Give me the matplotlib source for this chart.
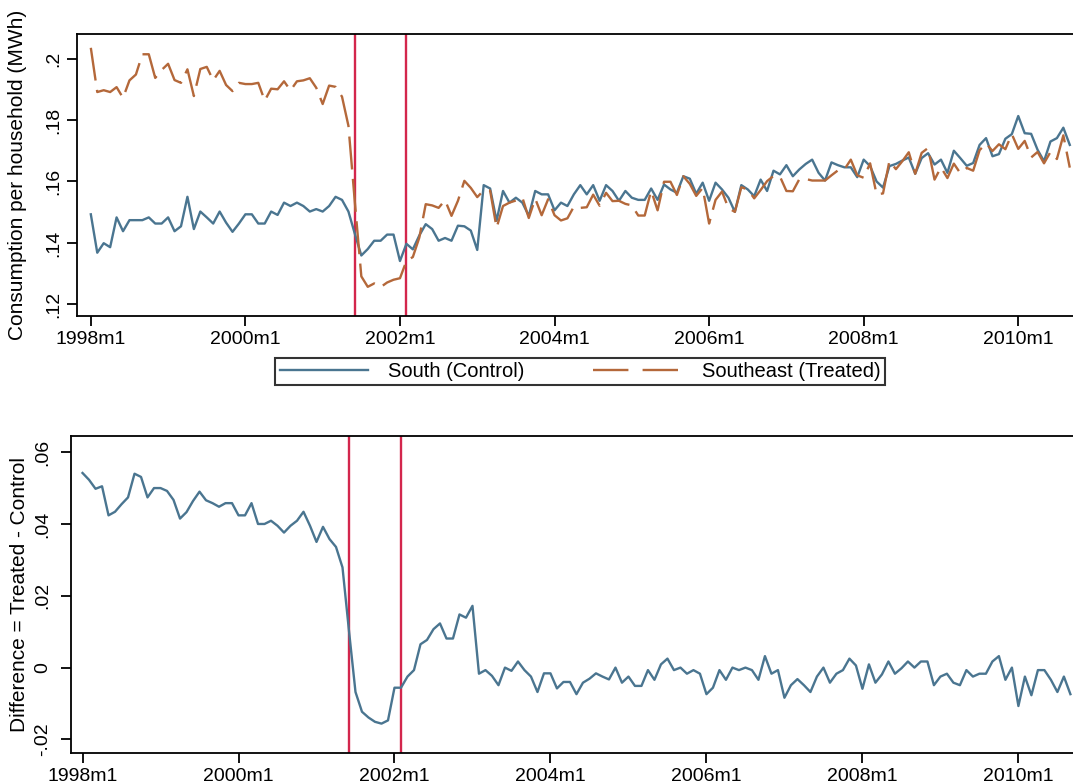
import numpy as np
import matplotlib
matplotlib.use("Agg")
import matplotlib.pyplot as plt
from matplotlib.lines import Line2D

# ---------------- data (monthly, 1998m1 .. 2010m9) ----------------
south_control = [
    .1493, .1368, .1399, .1386, .1483, .1438, .1474, .1474, .1474, .1483,
    .1463, .1463, .1483, .1438, .1454, .1550, .1445, .1502, .1483, .1463,
    .1502, .1466, .1436, .1463, .1493, .1493, .1463, .1463, .1502, .1491,
    .1531, .1520, .1531, .1520, .1502, .1510, .1502, .1520, .1550, .1540,
    .1502, .1429, .1359, .1380, .1407, .1407, .1427, .1427, .1341, .1397,
    .1379, .1424, .1461, .1445, .1407, .1416, .1407, .1456, .1454, .1440,
    .1377, .1588, .1577, .1472, .1569, .1531, .1547, .1531, .1488, .1569,
    .1558, .1558, .1506, .1531, .1520, .1558, .1588, .1558, .1588, .1537,
    .1588, .1569, .1537, .1569, .1547, .1540, .1540, .1577, .1540, .1590,
    .1574, .1563, .1617, .1609, .1560, .1596, .1537, .1596, .1574, .1547,
    .1501, .1588, .1574, .1552, .1606, .1569, .1635, .1623, .1653, .1617,
    .1639, .1657, .1671, .1628, .1603, .1662, .1653, .1646, .1646, .1614,
    .1671, .1650, .1600, .1580, .1650, .1657, .1668, .1678, .1625, .1676,
    .1692, .1655, .1671, .1628, .1700, .1676, .1651, .1660, .1719, .1741,
    .1682, .1689, .1739, .1754, .1813, .1757, .1755, .1703, .1666, .1730,
    .1741, .1775, .1719,
]

southeast_treated = [
    .2035, .1891, .1897, .1891, .1907, .1872, .1929, .1948, .2014, .2014,
    .1937, .1963, .1983, .1930, .1921, .1965, .1878, .1966, .1973, .1929,
    .1960, .1914, .1894, .1921, .1917, .1917, .1921, .1863, .1902, .1900,
    .1926, .1896, .1926, .1929, .1936, .1905, .1852, .1912, .1908, .1876,
    .1781, .1531, .1291, .1257, .1268, .1256, .1271, .1280, .1285, .1341,
    .1354, .1417, .1526, .1522, .1514, .1539, .1488, .1537, .1602, .1579,
    .1549, .1571, .1570, .1449, .1520, .1531, .1538, .1548, .1481, .1544,
    .1490, .1542, .1490, .1473, .1480, .1518, .1514, .1516, .1557, .1521,
    .1563, .1536, .1537, .1527, .1522, .1489, .1489, .1570, .1506, .1599,
    .1599, .1556, .1617, .1592, .1553, .1579, .1463, .1540, .1567, .1513,
    .1501, .1581, .1574, .1545, .1572, .1601, .1618, .1616, .1569, .1568,
    .1607, .1608, .1603, .1603, .1603, .1620, .1636, .1639, .1671, .1620,
    .1612, .1659, .1558, .1561, .1667, .1640, .1666, .1695, .1625, .1693,
    .1709, .1606, .1646, .1611, .1658, .1627, .1644, .1635, .1702, .1724,
    .1699, .1721, .1705, .1754, .1706, .1732, .1678, .1696, .1659, .1696,
    .1673, .1750, .1645,
]

start_year = 1998
tick_labels = ["1998m1", "2000m1", "2002m1", "2004m1", "2006m1", "2008m1", "2010m1"]
event_labels = ["2001m6", "2002m2"]   # rationing start / end
series_names = ["South (Control)", "Southeast (Treated)"]

top_yticks = [.12, .14, .16, .18, .2]
top_yticklabels = [".12", ".14", ".16", ".18", ".2"]
bot_yticks = [-.02, 0, .02, .04, .06]
bot_yticklabels = ["-.02", "0", ".02", ".04", ".06"]


def month_index(label):
    y, m = label.split("m")
    return (int(y) - start_year) * 12 + int(m) - 1


south = np.array(south_control)
southeast = np.array(southeast_treated)
difference = southeast - south
t = np.arange(len(south))
tick_pos = [month_index(s) for s in tick_labels]
event_pos = [month_index(s) for s in event_labels]

# ---------------- style ----------------
BLUE = "#4a7590"
ORANGE = "#b4683a"
RED = "#d3264c"
DASH = (0, (14, 4))
LEG_DASH = (0, (15, 6))
FONT = ["Liberation Sans", "DejaVu Sans"]
plt.rcParams["font.family"] = FONT

W, H = 1073, 784
fig = plt.figure(figsize=(W / 100, H / 100), dpi=100)
fig.patch.set_facecolor("white")

ax1 = fig.add_axes([77.3 / W, 1 - 316 / H, (W - 77.3) / W, (316 - 34.3) / H])
ax2 = fig.add_axes([70.7 / W, 1 - 752.7 / H, (W - 70.7) / W, (752.7 - 436) / H])


def style_axes(ax, yticks, yticklabels, ylabel, ylab_x, ypad):
    for side in ["left", "bottom", "top"]:
        ax.spines[side].set_linewidth(1.3)
        ax.spines[side].set_color("black")
    ax.spines["right"].set_visible(False)
    ax.set_xticks(tick_pos)
    ax.set_xticklabels(tick_labels, fontsize=14)
    ax.set_yticks(yticks)
    ax.set_yticklabels(yticklabels, fontsize=14, rotation=90, va="center")
    ax.tick_params(axis="both", direction="out", length=7, width=1.3, color="black")
    ax.tick_params(axis="x", pad=4)
    ax.tick_params(axis="y", pad=ypad)
    ax.set_ylabel(ylabel, fontsize=15)
    ax.yaxis.set_label_coords(ylab_x, 0.5)


# top panel
ax1.plot(t, south, color=BLUE, lw=1.7, zorder=3)
ax1.plot(t, southeast, color=ORANGE, lw=1.7, linestyle=DASH, zorder=3)
for ev in event_pos:
    ax1.axvline(ev, color=RED, lw=1.7, zorder=2)
ax1.set_xlim(-2.1, 152.5)
ax1.set_ylim(.1162, .2079)
style_axes(ax1, top_yticks, top_yticklabels, "Consumption per household (MWh)", -0.0505, 4)

# bottom panel
ax2.plot(t, difference, color=BLUE, lw=1.7, zorder=3)
for ev in event_pos:
    ax2.axvline(ev, color=RED, lw=1.7, zorder=2)
ax2.set_xlim(-1.82, 152.4)
ax2.set_ylim(-.0237, .0645)
style_axes(ax2, bot_yticks, bot_yticklabels, "Difference = Treated - Control", -0.0416, 7)

# legend
handles = [Line2D([], [], color=BLUE, lw=1.7),
           Line2D([], [], color=ORANGE, lw=1.7, linestyle=LEG_DASH)]
leg = fig.legend(handles, series_names, loc="center",
                 bbox_to_anchor=(580 / W, 1 - 371.5 / H), ncol=2, fontsize=14.5,
                 frameon=True, fancybox=False, edgecolor="black",
                 handlelength=4.4, handletextpad=1.0, columnspacing=3.4,
                 borderpad=0.2, borderaxespad=0)
leg.get_frame().set_linewidth(1.5)

fig.savefig("out.png", dpi=100, facecolor="white")
